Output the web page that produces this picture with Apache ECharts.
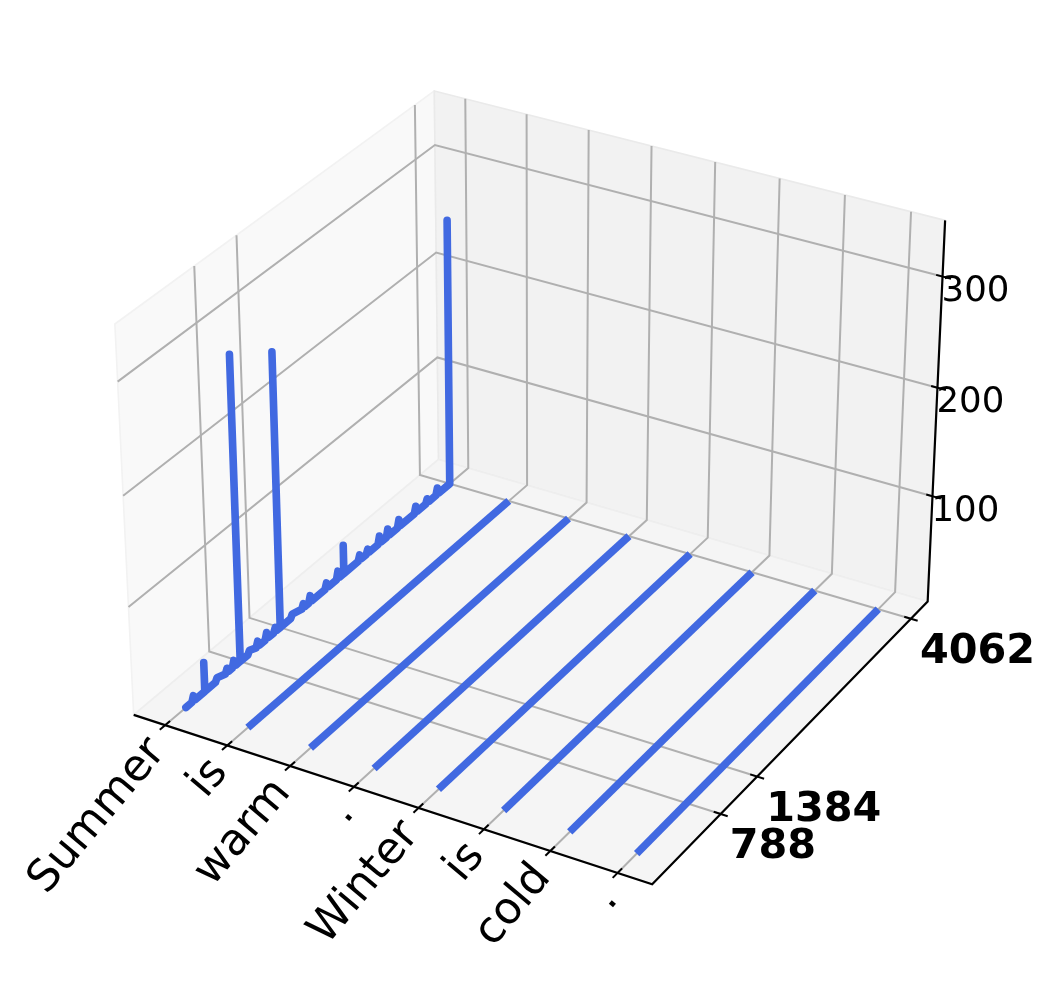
<!DOCTYPE html>
<html>
<head>
<meta charset="utf-8">
<style>html,body{margin:0;padding:0;background:#fff}#chart{width:1054px;height:983px}</style>
<script src="https://cdn.jsdelivr.net/npm/echarts@6/dist/echarts.min.js"></script>
</head>
<body>
<div id="chart"></div>
<script>
// ---- data ----
const words = ['Summer', 'is', 'warm', '.', 'Winter', 'is', 'cold', '.'];
const yTicks = [788, 1384, 4062];
const zTicks = [100, 200, 300];
const floorLevel = 0.5;
const firstIndex = 0;
const lastIndex = 4062;
const peakIndex = [110, 272, 450, 596, 696, 788, 925, 1048, 1182, 1310, 1384, 1566, 1735, 1840, 2090, 2268, 2358, 2608, 2735, 2921, 3054, 3232, 3505, 3690, 3858, 4062];
const peakValue = [5, 27, 3, 4, 6, 280, 3, 5, 6, 4, 254, 3, 4, 6, 5, 7, 27, 5, 4, 7, 7, 7, 6, 4, 6, 251];

// ---- view (matplotlib-style default 3D camera: elev 30, azim -60) ----
const xLim = [-0.5104, 7.5104], yLim = [-296, 4370], zLim = [0.5, 349.5];
const half = [0.5952, 0.5952, 0.4464];
const U = [0.8660, 0.5, 0], V = [-0.25, 0.4330, 0.8660], W = [0.4330, -0.75, 0.5];
const dist = 10, scale = 4990, cx = 538, cy = 468.5;
const dot = (a, b) => a[0] * b[0] + a[1] * b[1] + a[2] * b[2];
function projN(f, g, h) {
  const q = [(2 * f - 1) * half[0], (2 * g - 1) * half[1], (2 * h - 1) * half[2]];
  const s = 1 / (dist - dot(q, W));
  return [cx + scale * dot(q, U) * s, cy - scale * dot(q, V) * s];
}
const fx = v => (v - xLim[0]) / (xLim[1] - xLim[0]);
const fy = v => (v - yLim[0]) / (yLim[1] - yLim[0]);
const fz = v => (v - zLim[0]) / (zLim[1] - zLim[0]);
const proj = (x, y, z) => projN(fx(x), fy(y), fz(z));

// ---- series paths ----
function firstWordPath() {
  const pts = [[0, firstIndex, floorLevel]];
  peakIndex.forEach((y, i) => {
    const spread = peakValue[i] < 15 ? 25 : 1;
    pts.push([0, y - spread, floorLevel]);
    pts.push([0, y, peakValue[i] + floorLevel]);
    if (y < lastIndex) pts.push([0, y + spread, floorLevel]);
  });
  return pts;
}
const wordPath = i => i === 0 ? firstWordPath()
  : [[i, firstIndex, floorLevel], [i, lastIndex, floorLevel]];

const GRID = '#b0b0b0', BLACK = '#000000', FONT = '"DejaVu Sans"';
const LABEL_SIZE = 44, LABEL_ANGLE = 50 * Math.PI / 180;
const measure = document.createElement('canvas').getContext('2d');

function scaffold(params, api) {
  const c = p => api.coord(p);
  const N = (f, g, h) => c(projN(f, g, h));
  const kids = [];
  const poly = (pts, fill, stroke) => kids.push({
    type: 'polygon', shape: { points: pts }, silent: true,
    style: { fill, stroke, lineWidth: 1.6, lineJoin: 'round' }
  });
  const line = (pts, stroke, lw) => kids.push({
    type: 'polyline', shape: { points: pts }, silent: true,
    style: { fill: 'none', stroke, lineWidth: lw, lineJoin: 'miter', lineCap: 'butt' }
  });
  const text = (s, p, size, weight, align, rot) => kids.push({
    type: 'text', x: p[0], y: p[1], rotation: rot || 0, silent: true,
    style: { text: s, x: 0, y: 0, fill: '#000', font: weight + ' ' + size + 'px ' + FONT, align, verticalAlign: 'middle' }
  });

  // panes
  poly([N(0, 0, 0), N(0, 1, 0), N(0, 1, 1), N(0, 0, 1)], '#f9f9f9', '#f2f2f2');
  poly([N(0, 1, 0), N(1, 1, 0), N(1, 1, 1), N(0, 1, 1)], '#f2f2f2', '#eaeaea');
  poly([N(0, 0, 0), N(1, 0, 0), N(1, 1, 0), N(0, 1, 0)], '#f5f5f5', '#eeeeee');

  // grid lines
  words.forEach((w, i) => {
    const f = fx(i);
    line([N(f, 0, 0), N(f, 1, 0), N(f, 1, 1)], GRID, 2);
  });
  yTicks.forEach(y => {
    const g = fy(y);
    line([N(1, g, 0), N(0, g, 0), N(0, g, 1)], GRID, 2);
  });
  zTicks.forEach(z => {
    const h = fz(z);
    line([N(1, 1, h), N(0, 1, h), N(0, 0, h)], GRID, 2);
  });

  // axis lines
  line([N(0, 0, 0), N(1, 0, 0), N(1, 1, 0), N(1, 1, 1)], BLACK, 2.2);

  // ticks and labels
  measure.font = LABEL_SIZE + 'px ' + FONT;
  words.forEach((w, i) => {
    const f = fx(i);
    line([N(f, 0.015, 0), N(f, -0.016, 0)], BLACK, 2);
    const t = c(projN(f, 0, 0));
    // box of the turned label: right edge and top edge sit at the anchor
    const tw = measure.measureText(w).width;
    const bw = tw * Math.cos(LABEL_ANGLE) + LABEL_SIZE * Math.sin(LABEL_ANGLE);
    const bh = tw * Math.sin(LABEL_ANGLE) + LABEL_SIZE * Math.cos(LABEL_ANGLE);
    text(w, [t[0] + 9.5 - bw / 2, t[1] + 5.5 + bh / 2], LABEL_SIZE, 'normal', 'center', LABEL_ANGLE);
  });
  yTicks.forEach(y => {
    const g = fy(y);
    line([N(0.987, g, 0), N(1.013, g, 0)], BLACK, 2);
    const t = c(projN(1, g, 0));
    text(String(y), [t[0] + 9, t[1] + 33.5], 41.4, 'bold', 'left');
  });
  zTicks.forEach(z => {
    const h = fz(z);
    line([N(0.988, 1, h), N(1.016, 1, h)], BLACK, 2);
    const t = c(projN(1, 1, h));
    text(String(z), [t[0] - 1, t[1] + 15], 35.6, 'normal', 'left');
  });
  return { type: 'group', children: kids };
}

const series = [{
  type: 'custom', coordinateSystem: 'cartesian2d', renderItem: scaffold,
  data: [[0, 0]], clip: false, silent: true, animation: false, z: 1
}];
words.forEach((w, i) => {
  series.push({
    type: 'line', name: w + ' ' + i, coordinateSystem: 'cartesian2d',
    data: wordPath(i).map(p => proj(p[0], p[1], p[2])),
    showSymbol: false, symbol: 'none', clip: false, silent: true, animation: false, z: 2,
    lineStyle: { color: '#4169e1', width: 7.6, cap: i === 0 ? 'round' : 'butt', join: 'round' }
  });
});

const chart = echarts.init(document.getElementById('chart'));
chart.setOption({
  animation: false,
  backgroundColor: '#ffffff',
  grid: { left: 0, right: 0, top: 0, bottom: 0, containLabel: false },
  xAxis: { type: 'value', min: 0, max: 1054, show: false },
  yAxis: { type: 'value', min: 0, max: 983, inverse: true, show: false },
  series
});
</script>
</body>
</html>
